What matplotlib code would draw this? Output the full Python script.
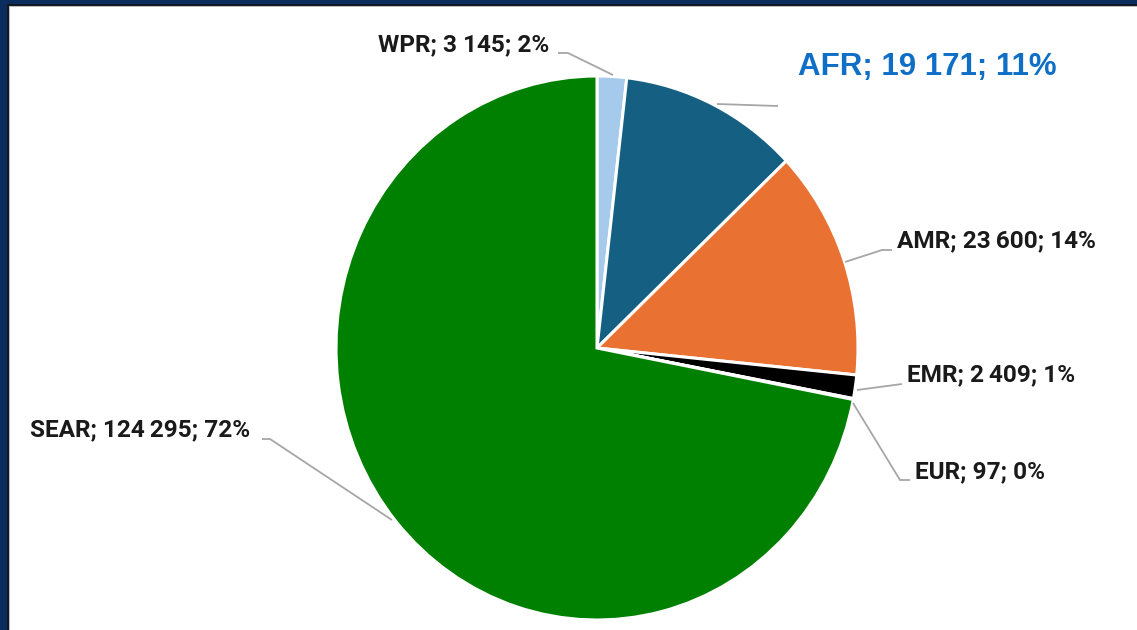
import matplotlib
matplotlib.use("Agg")
import matplotlib.pyplot as plt
from matplotlib.patches import Rectangle

# ---- data ----
regions = ["WPR", "AFR", "AMR", "EMR", "EUR", "SEAR"]
cases = [3145, 19171, 23600, 2409, 97, 124295]
colors = ["#a6caec", "#156082", "#e97132", "#000000", "#808080", "#008000"]
thousand_sep = [" ", " ", "\u2009", "\u2009", "\u2009", "\u2009"]

# ---- layout (pixel positions) ----
W, H = 1137, 630
CX, CY, RX, RY = 597, 348, 261, 272

fig = plt.figure(figsize=(W / 100, H / 100), dpi=100)
fig.patch.set_facecolor("white")
ax = fig.add_axes([0, 0, 1, 1])

def px(x, y):
    return (x - CX) / RX, (CY - y) / RY

ax.pie(cases, colors=colors, startangle=90, counterclock=False,
       radius=1, center=(0, 0),
       wedgeprops=dict(edgecolor="white", linewidth=2.2))
ax.set_aspect("auto")
ax.set_xlim(-CX / RX, (W - CX) / RX)
ax.set_ylim(-(H - CY) / RY, CY / RY)
ax.axis("off")

total = sum(cases)

def fmt(v, sep):
    return f"{v:,}".replace(",", sep)

labels = [f"{r}; {fmt(v, s)}; {round(100 * v / total)}%"
          for r, v, s in zip(regions, cases, thousand_sep)]

label_pos = {
    "WPR": (378, 45),
    "AFR": (798, 67),
    "AMR": (897, 241),
    "EMR": (907, 375),
    "EUR": (915, 472),
    "SEAR": (30, 430),
}
leaders = {
    "WPR": [(558, 53), (568, 53), (613, 75)],
    "AFR": [(717, 104), (778, 106)],
    "AMR": [(845, 262), (882, 250), (892, 250)],
    "EMR": [(857, 390), (902, 384)],
    "EUR": [(853, 403), (900, 480), (910, 480)],
    "SEAR": [(262, 439), (270, 439), (392, 520)],
}

fam = ["Roboto", "DejaVu Sans"]
for r, lab in zip(regions, labels):
    x, y = px(*label_pos[r])
    if r == "AFR":
        ax.text(x, y, lab, ha="left", va="center", fontsize=22.5,
                color="#0f6fc6", family=["Liberation Sans", "DejaVu Sans"],
                fontweight="bold")
    else:
        ax.text(x, y, lab, ha="left", va="center", fontsize=17.6,
                color="#1a1a1a", family=fam, fontweight="bold")
    pts = [px(a, b) for a, b in leaders[r]]
    ax.plot([p[0] for p in pts], [p[1] for p in pts], color="#a6a6a6",
            lw=1.3, solid_capstyle="butt", zorder=1)

# ---- frame border ----
def frect(x, y, w, h, c):
    fig.patches.append(Rectangle((x / W, 1 - (y + h) / H), w / W, h / H,
                                 transform=fig.transFigure, color=c,
                                 zorder=10, lw=0))

frect(0, 0, 7, H, "#0b2d5e")
frect(0, 0, W, 4, "#0b2d5e")
frect(7, 4, 1.5, H, "#111a24")
frect(7, 4, W, 1.5, "#111a24")
frect(8.5, 5.5, 1.2, H, "#bdbdbd")
frect(8.5, 5.5, W, 1.2, "#bdbdbd")

fig.savefig("out.png", dpi=100, facecolor="white")
